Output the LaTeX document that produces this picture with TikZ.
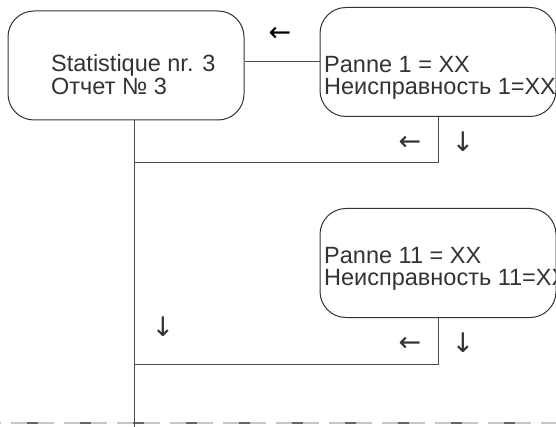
\documentclass[tikz,border=0pt]{standalone}
\usepackage{fontspec}
\setmainfont{Liberation Sans}
\newfontfamily\arrowfont{DejaVu Sans}
\tikzset{
  box/.style={draw=black!80, line width=1pt, rounded corners=26pt, minimum width=236pt, minimum height=109pt},
  link/.style={draw=black!70, line width=1pt},
  txt/.style={inner sep=0pt, anchor=base west, text=black!80, font=\fontsize{23.5}{23}\selectfont},
  sign/.style={inner sep=0pt, text=black!80, font=\arrowfont\fontsize{27}{27}\selectfont}
}
\begin{document}
\begin{tikzpicture}[x=1pt,y=-1pt]
        \useasboundingbox (0,0) rectangle (556,427);

        \node[box] (stat) at (126,65.5) {};
        \node[box] (p1) at (438,62) {};
        \node[box] (p11) at (438,263) {};

        \node[txt] (stat1) at (51,72) {Statistique nr. 3};
        \node[txt] (stat2) at (51,95) {Отчет № 3};
        \node[txt] (p1a) at (324,73) {Panne 1 = XX};
        \node[txt] (p1b) at (324,95) {Неисправность 1=XX};
        \node[txt] (p11a) at (324,264) {Panne 11 = XX};
        \node[txt] (p11b) at (324,286) {Неисправность 11=XX};

        \coordinate (trunk) at (134,120);
        \coordinate (trunkend) at (134,427);
        \coordinate (join1) at (134,163);
        \coordinate (join11) at (134,364);

        % separator
        \draw[gray!45, line width=2pt, dash pattern=on 43pt off 10pt, dash phase=42pt] (0,423) -- (556,423);
        \draw[black!60, line width=2pt, dash pattern=on 11pt off 42pt, dash phase=26pt] (0,423) -- (556,423);

        \draw[link] (p1.west -| stat.east) -- (p1.west);
        \draw[link] (p1.south) |- (join1);
        \draw[link] (p11.south) |- (join11);
        \draw[link] (trunk) -- (trunkend);

        \node[sign, text=black] (a1) at (280,34) {←};
        \node[sign] (a2) at (410,143) {←};
        \node[sign] (a3) at (463,142) {↓};
        \node[sign] (a4) at (163,327) {↓};
        \node[sign] (a5) at (410,344) {←};
        \node[sign] (a6) at (463,343) {↓};
    \end{tikzpicture}
\end{document}
